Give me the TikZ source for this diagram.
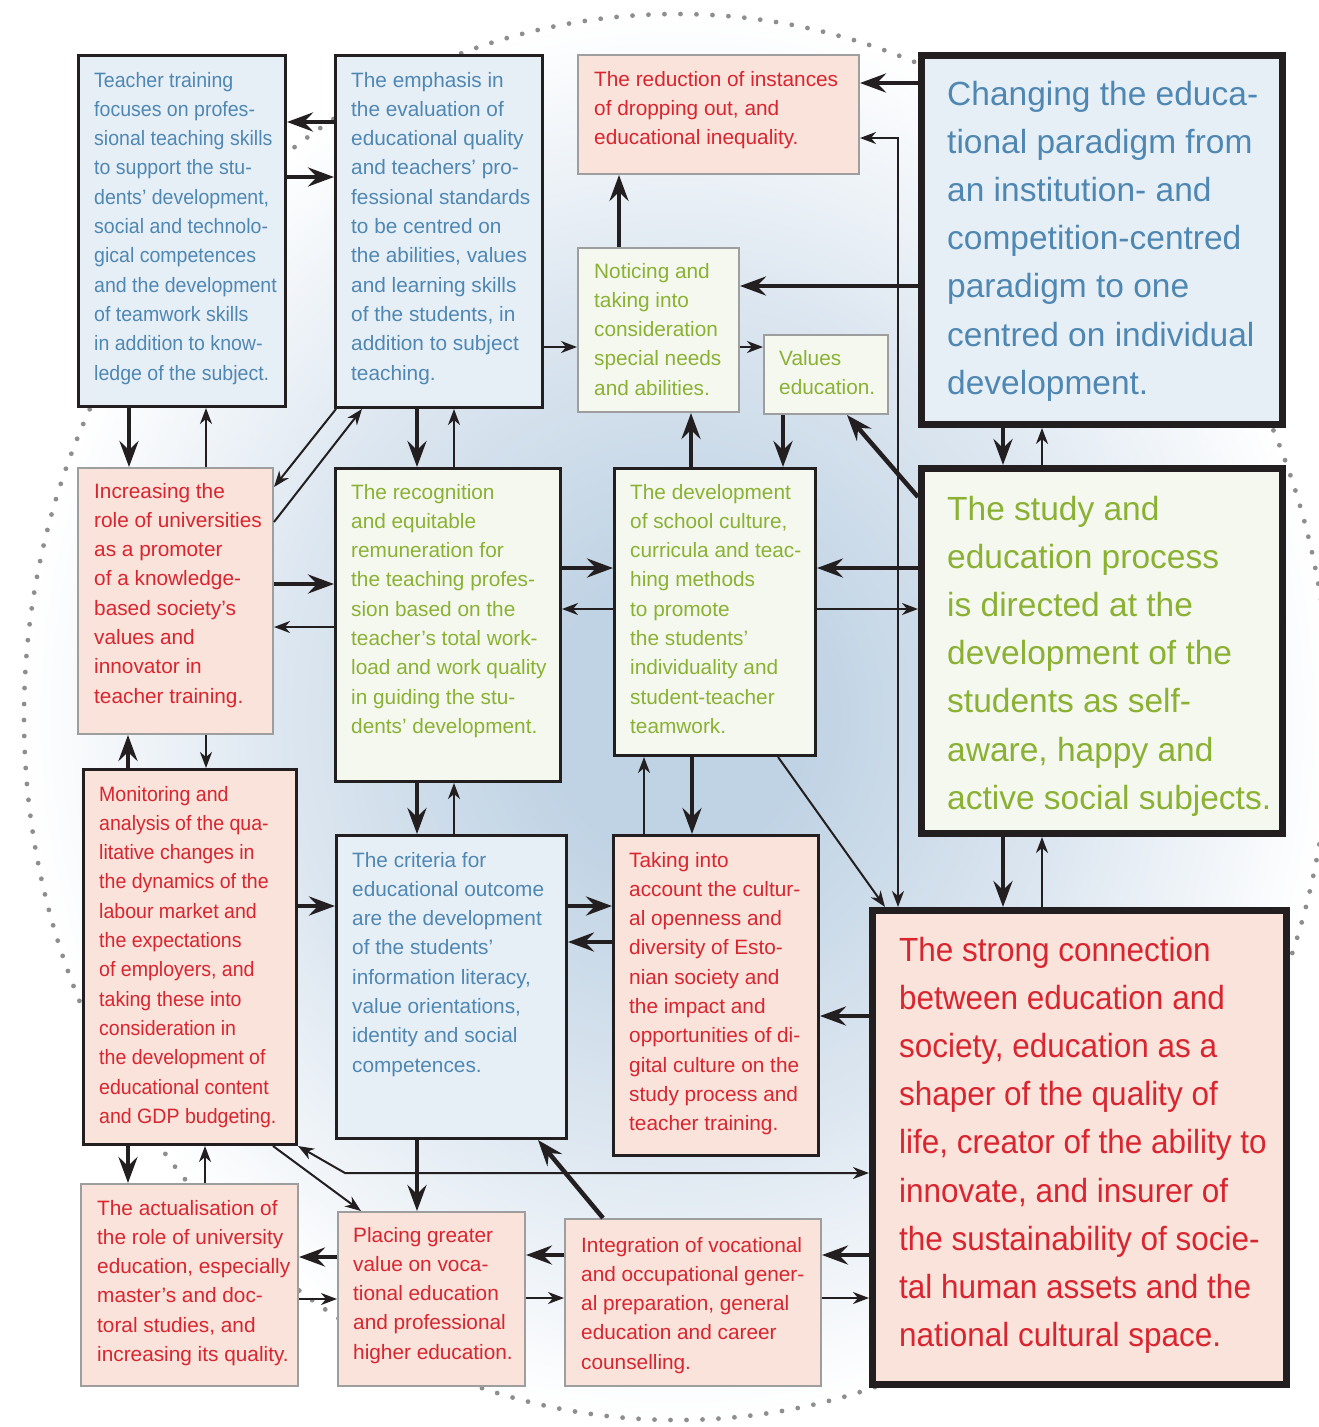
\documentclass[tikz,border=0pt]{standalone}
\usepackage{fontspec}
\setmainfont{Liberation Sans}
\newfontfamily\narrowsans[FakeStretch=0.94]{Liberation Sans}
\usetikzlibrary{arrows.meta}

\definecolor{linedark}{HTML}{231F20}
\definecolor{linegray}{HTML}{9E9E9E}
\definecolor{dotgray}{HTML}{8E8E8E}
\definecolor{fillblue}{HTML}{E7EFF6}
\definecolor{fillpink}{HTML}{F9E3DB}
\definecolor{fillgreen}{HTML}{F5F8EF}
\definecolor{txtblue}{HTML}{4F87B3}
\definecolor{txtred}{HTML}{D9252F}
\definecolor{txtgreen}{HTML}{8AB133}
\definecolor{bgmid}{HTML}{C0D3E4}
\definecolor{bglight}{HTML}{DCE6F0}

\pgfdeclareradialshading{bgglow}{\pgfpoint{0bp}{0bp}}{color(0bp)=(bgmid); color(5bp)=(bgmid); color(15bp)=(bglight); color(25bp)=(white); color(50bp)=(white)}

\newcommand\boxfont{\fontsize{20.8}{29.3}\selectfont}
\newcommand\bigboxfont{\fontsize{33.5}{48.2}\selectfont}

\tikzset{
  box/.style={anchor=north west, inner sep=0pt},
  darkbox/.style={box, draw=linedark, line width=3pt},
  graybox/.style={box, draw=linegray, line width=2pt},
  heavybox/.style={box, draw=linedark, line width=7pt},
  boxtext/.style={anchor=base west, align=left, inner sep=0pt, font=\boxfont},
  bigtext/.style={boxtext, font=\bigboxfont},
  heavyarrow/.style={draw=linedark, line width=4.5pt, -{Stealth[length=26pt, width=19pt, inset=9pt]}},
  lightarrow/.style={draw=linedark, line width=2pt, -{Stealth[length=16pt, width=12pt, inset=5pt]}},
  lightboth/.style={draw=linedark, line width=2pt, {Stealth[length=16pt, width=12pt, inset=5pt]}-{Stealth[length=16pt, width=12pt, inset=5pt]}}
}

\begin{document}
\begin{tikzpicture}[x=1pt, y=-1pt]
    \useasboundingbox (0,0) rectangle (1319,1427);
    \fill[white] (0,0) rectangle (1319,1427);
    \shade[shading=bgglow] (677,717) ellipse [x radius=653, y radius=703];
    \draw[dotgray, line width=4.8pt, line cap=round, dash pattern=on 0pt off 16pt] (677,717) ellipse [x radius=653, y radius=703];

    % boxes
    \node[darkbox, fill=fillblue, minimum width=207pt, minimum height=351pt] (tt) at (77,54) {};
    \node[darkbox, fill=fillblue, minimum width=207pt, minimum height=352pt] (em) at (334,54) {};
    \node[graybox, fill=fillpink, minimum width=281pt, minimum height=119pt] (rd) at (577,54) {};
    \node[heavybox, fill=fillblue, minimum width=361pt, minimum height=369pt] (ch) at (918,52) {};
    \node[graybox, fill=fillgreen, minimum width=161pt, minimum height=164pt] (no) at (577,247) {};
    \node[graybox, fill=fillgreen, minimum width=124pt, minimum height=79pt] (va) at (763,334) {};
    \node[graybox, fill=fillpink, minimum width=195pt, minimum height=266pt] (in) at (77,467) {};
    \node[darkbox, fill=fillgreen, minimum width=225pt, minimum height=313pt] (re) at (334,467) {};
    \node[darkbox, fill=fillgreen, minimum width=201pt, minimum height=287pt] (de) at (613,467) {};
    \node[heavybox, fill=fillgreen, minimum width=361pt, minimum height=365pt] (st) at (918,465) {};
    \node[darkbox, fill=fillpink, minimum width=213pt, minimum height=375pt] (mo) at (82,768) {};
    \node[darkbox, fill=fillblue, minimum width=230pt, minimum height=303pt] (cr) at (335,834) {};
    \node[darkbox, fill=fillpink, minimum width=205pt, minimum height=320pt] (ta) at (612,834) {};
    \node[heavybox, fill=fillpink, minimum width=414pt, minimum height=474pt] (sc) at (869,907) {};
    \node[graybox, fill=fillpink, minimum width=217pt, minimum height=202pt] (ac) at (80,1183) {};
    \node[graybox, fill=fillpink, minimum width=187pt, minimum height=174pt] (pl) at (337,1211) {};
    \node[graybox, fill=fillpink, minimum width=256pt, minimum height=167pt] (ig) at (564,1218) {};

    % texts (placed at the baseline of their last line)
    \node[boxtext, text=txtblue, font=\boxfont\narrowsans] (tt text) at (94,380) {Teacher training\\focuses on profes-\\sional teaching skills\\to support the stu-\\dents’ development,\\social and technolo-\\gical competences\\and the development\\of teamwork skills\\in addition to know-\\ledge of the subject.};
    \node[boxtext, text=txtblue] (em text) at (351,380) {The emphasis in\\the evaluation of\\educational quality\\and teachers’ pro-\\fessional standards\\to be centred on\\the abilities, values\\and learning skills\\of the students, in\\addition to subject\\teaching.};
    \node[boxtext, text=txtred] (rd text) at (594,144.6) {The reduction of instances\\of dropping out, and\\educational inequality.};
    \node[bigtext, text=txtblue] (ch text) at (947,394.2) {Changing the educa-\\tional paradigm from\\an institution- and\\competition-centred\\paradigm to one\\centred on individual\\development.};
    \node[boxtext, text=txtgreen] (no text) at (594,395.2) {Noticing and\\taking into\\consideration\\special needs\\and abilities.};
    \node[boxtext, text=txtgreen] (va text) at (779,394.3) {Values\\education.};
    \node[boxtext, text=txtred] (in text) at (94,703.1) {Increasing the\\role of universities\\as a promoter\\of a knowledge-\\based society’s\\values and\\innovator in\\teacher training.};
    \node[boxtext, text=txtgreen] (re text) at (351,733.4) {The recognition\\and equitable\\remuneration for\\the teaching profes-\\sion based on the\\teacher’s total work-\\load and work quality\\in guiding the stu-\\dents’ development.};
    \node[boxtext, text=txtgreen] (de text) at (630,733.4) {The development\\of school culture,\\curricula and teac-\\hing methods\\to promote\\the students’\\individuality and\\student-teacher\\teamwork.};
    \node[bigtext, text=txtgreen] (st text) at (947,809.2) {The study and\\education process\\is directed at the\\development of the\\students as self-\\aware, happy and\\active social subjects.};
    \node[boxtext, text=txtred, font=\boxfont\narrowsans] (mo text) at (99,1123.3) {Monitoring and\\analysis of the qua-\\litative changes in\\the dynamics of the\\labour market and\\the expectations\\of employers, and\\taking these into\\consideration in\\the development of\\educational content\\and GDP budgeting.};
    \node[boxtext, text=txtblue] (cr text) at (352,1072.1) {The criteria for\\educational outcome\\are the development\\of the students’\\information literacy,\\value orientations,\\identity and social\\competences.};
    \node[boxtext, text=txtred] (ta text) at (629,1130.7) {Taking into\\account the cultur-\\al openness and\\diversity of Esto-\\nian society and\\the impact and\\opportunities of di-\\gital culture on the\\study process and\\teacher training.};
    \node[bigtext, text=txtred, font=\bigboxfont\narrowsans] (sc text) at (899,1346.6) {The strong connection\\between education and\\society, education as a\\shaper of the quality of\\life, creator of the ability to\\innovate, and insurer of\\the sustainability of socie-\\tal human assets and the\\national cultural space.};
    \node[boxtext, text=txtred] (ac text) at (97,1361.5) {The actualisation of\\the role of university\\education, especially\\master’s and doc-\\toral studies, and\\increasing its quality.};
    \node[boxtext, text=txtred] (pl text) at (353,1359.2) {Placing greater\\value on voca-\\tional education\\and professional\\higher education.};
    \node[boxtext, text=txtred] (ig text) at (581,1369.2) {Integration of vocational\\and occupational gener-\\al preparation, general\\education and career\\counselling.};

    % connectors
    \draw[heavyarrow] (em.west |- 0,122) -- (tt.east |- 0,122);
    \draw[heavyarrow] (tt.east |- 0,177) -- (em.west |- 0,177);
    \draw[lightarrow] (em.east |- 0,347) -- (no.west |- 0,347);
    \draw[heavyarrow] (ch.west |- 0,83) -- (rd.east |- 0,83);
    \draw[heavyarrow] (ch.west |- 0,286) -- (no.east |- 0,286);
    \draw[heavyarrow] (no.north -| 619,0) -- (rd.south -| 619,0);
    \draw[lightarrow] (no.east |- 0,347) -- (va.west |- 0,347);
    \draw[lightboth] (rd.east |- 0,138) -| (sc.north -| 898,0);

    \draw[heavyarrow] (tt.south -| 129,0) -- (in.north -| 129,0);
    \draw[lightarrow] (in.north -| 206,0) -- (tt.south -| 206,0);
    \draw[lightarrow] (em.south -| 336,0) -- (in.east |- 0,487);
    \draw[lightarrow] (in.east |- 0,522) -- (em.south -| 362,0);
    \draw[heavyarrow] (em.south -| 417,0) -- (re.north -| 417,0);
    \draw[lightarrow] (re.north -| 454,0) -- (em.south -| 454,0);
    \draw[heavyarrow] (in.east |- 0,584) -- (re.west |- 0,584);
    \draw[lightarrow] (re.west |- 0,627) -- (in.east |- 0,627);
    \draw[heavyarrow] (re.east |- 0,568) -- (de.west |- 0,568);
    \draw[lightarrow] (de.west |- 0,609) -- (re.east |- 0,609);
    \draw[heavyarrow] (de.north -| 691,0) -- (no.south -| 691,0);
    \draw[heavyarrow] (va.south -| 783,0) -- (de.north -| 783,0);
    \draw[heavyarrow] (st.west |- 0,497) -- (va.south -| 847,0);
    \draw[heavyarrow] (st.west |- 0,568) -- (de.east |- 0,568);
    \draw[lightarrow] (de.east |- 0,609) -- (st.west |- 0,609);
    \draw[heavyarrow] (ch.south -| 1003,0) -- (st.north -| 1003,0);
    \draw[lightarrow] (st.north -| 1042,0) -- (ch.south -| 1042,0);

    \draw[heavyarrow] (mo.north -| 128,0) -- (in.south -| 128,0);
    \draw[lightarrow] (in.south -| 206,0) -- (mo.north -| 206,0);
    \draw[heavyarrow] (re.south -| 417,0) -- (cr.north -| 417,0);
    \draw[lightarrow] (cr.north -| 454,0) -- (re.south -| 454,0);
    \draw[heavyarrow] (de.south -| 692,0) -- (ta.north -| 692,0);
    \draw[lightarrow] (ta.north -| 644,0) -- (de.south -| 644,0);
    \draw[lightarrow] (de.south -| 778,0) -- (sc.north -| 885,0);
    \draw[heavyarrow] (st.south -| 1003,0) -- (sc.north -| 1003,0);
    \draw[lightarrow] (sc.north -| 1042,0) -- (st.south -| 1042,0);
    \draw[heavyarrow] (mo.east |- 0,906) -- (cr.west |- 0,906);
    \draw[heavyarrow] (cr.east |- 0,906) -- (ta.west |- 0,906);
    \draw[heavyarrow] (ta.west |- 0,942) -- (cr.east |- 0,942);
    \draw[heavyarrow] (sc.west |- 0,1016) -- (ta.east |- 0,1016);

    \draw[lightboth] (mo.south east) -- (345,1173) -- (sc.west |- 0,1173);
    \draw[lightarrow] (mo.south -| 273,0) -- (pl.north -| 361,0);
    \draw[heavyarrow] (mo.south -| 128,0) -- (ac.north -| 128,0);
    \draw[lightarrow] (ac.north -| 205,0) -- (mo.south -| 205,0);
    \draw[heavyarrow] (cr.south -| 417,0) -- (pl.north -| 417,0);
    \draw[heavyarrow] (ig.north -| 603,0) -- (cr.south -| 538,0);
    \draw[heavyarrow] (pl.west |- 0,1257) -- (ac.east |- 0,1257);
    \draw[lightarrow] (ac.east |- 0,1299) -- (pl.west |- 0,1299);
    \draw[heavyarrow] (ig.west |- 0,1255) -- (pl.east |- 0,1255);
    \draw[lightarrow] (pl.east |- 0,1298) -- (ig.west |- 0,1298);
    \draw[heavyarrow] (sc.west |- 0,1255) -- (ig.east |- 0,1255);
    \draw[lightarrow] (ig.east |- 0,1298) -- (sc.west |- 0,1298);
\end{tikzpicture}
\end{document}
